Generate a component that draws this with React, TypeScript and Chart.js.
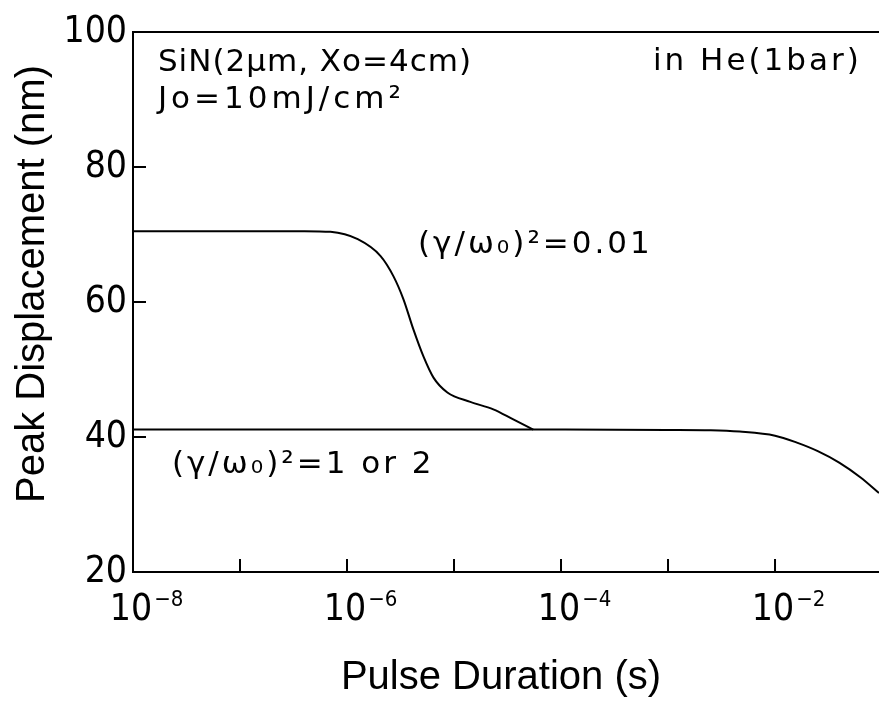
import React, { useEffect, useRef } from 'react';
import { Chart, registerables } from 'chart.js';

Chart.register(...registerables);

// ---- data ----
const lowDampX = [1e-8, 1e-7, 4e-7, 7.0e-7, 1.26e-6, 2.06e-6, 2.72e-6, 3.37e-6, 4.18e-6, 5.19e-6, 6.43e-6, 8.67e-6, 1.42e-5, 2.33e-5, 3.58e-5, 5.5e-5];
const lowDampY = [70.5, 70.5, 70.5, 70.4, 69.3, 66.8, 63.8, 60.4, 55.9, 51.9, 48.8, 46.6, 45.2, 44.1, 42.6, 41.1];

const highDampX = [1e-8, 1e-6, 1e-4, 1e-3, 2.51e-3, 4.68e-3, 1e-2, 1.58e-2, 2.51e-2, 3.98e-2, 6.31e-2, 9.37e-2];
const highDampY = [41.1, 41.1, 41.1, 41.05, 41.0, 40.8, 40.2, 39.2, 37.9, 36.2, 34.0, 31.7];

const X_MIN = 1e-8;
const X_MAX = 9.37e-2;
const Y_MIN = 20;
const Y_MAX = 100;
const Y_STEP = 20;

const yInnerTicks = [40, 60, 80];
const xInnerTicks = [1e-7, 1e-6, 1e-5, 1e-4, 1e-3, 1e-2];
const xLabelExponents = [-8, -6, -4, -2];

const xAxisTitle = 'Pulse Duration (s)';
const yAxisTitle = 'Peak Displacement (nm)';

const noteTexts = ['SiN(2μm, Xo=4cm)', 'Jo=10mJ/cm²', 'in He(1bar)', '(γ/ω₀)²=0.01', '(γ/ω₀)²=1 or 2'];
const noteX = [1.71e-8, 1.71e-8, 7.24e-4, 4.61e-6, 2.31e-8];
const noteY = [95.4, 89.9, 95.6, 68.4, 35.9];
const noteSpacing = [1, 4, 3, 3, 3];

const NARROW = '"Liberation Sans Narrow", "DejaVu Sans Condensed", "Arial Narrow", sans-serif';
const SANS = '"Liberation Sans", Arial, sans-serif';
const NOTE = '"DejaVu Sans", sans-serif';

const decorPlugin = {
  id: 'decor',
  afterDraw(chart: any) {
    const ctx = chart.ctx as CanvasRenderingContext2D;
    const { left, right, top, bottom } = chart.chartArea;
    const xs = chart.scales.x;
    const ys = chart.scales.y;
    ctx.save();
    ctx.strokeStyle = '#000';
    ctx.lineWidth = 2;
    // top frame line
    ctx.beginPath();
    ctx.moveTo(left, top);
    ctx.lineTo(right, top);
    ctx.stroke();
    // inward tick marks
    ctx.beginPath();
    xInnerTicks.forEach((v) => {
      const px = xs.getPixelForValue(v);
      ctx.moveTo(px, bottom);
      ctx.lineTo(px, bottom - 13);
    });
    yInnerTicks.forEach((v) => {
      const py = ys.getPixelForValue(v);
      ctx.moveTo(left, py);
      ctx.lineTo(left + 13, py);
    });
    ctx.stroke();

    // x tick labels 10^n
    ctx.fillStyle = '#000';
    ctx.textBaseline = 'middle';
    xLabelExponents.forEach((e) => {
      const px = xs.getPixelForValue(Math.pow(10, e));
      ctx.font = `37px ${NARROW}`;
      ctx.textAlign = 'center';
      ctx.fillText('10', px - 2, bottom + 38);
      const w = ctx.measureText('10').width;
      ctx.font = `22px ${NARROW}`;
      ctx.textAlign = 'left';
      ctx.fillText('\u2212' + Math.abs(e), px - 2 + w / 2 + 2, bottom + 28);
    });

    // axis titles
    ctx.font = `40px ${SANS}`;
    ctx.textAlign = 'center';
    ctx.fillText(xAxisTitle, (left + right) / 2 - 5, 678);
    ctx.save();
    ctx.translate(33, 284);
    ctx.rotate(-Math.PI / 2);
    ctx.fillText(yAxisTitle, 0, 0);
    ctx.restore();

    // annotations
    ctx.font = `31px ${NOTE}`;
    ctx.textAlign = 'left';
    noteTexts.forEach((t, i) => {
      (ctx as any).letterSpacing = `${noteSpacing[i]}px`;
      ctx.fillText(t, xs.getPixelForValue(noteX[i]), ys.getPixelForValue(noteY[i]));
    });
    ctx.restore();
  },
};

export default function App() {
  const ref = useRef<HTMLCanvasElement | null>(null);
  useEffect(() => {
    if (!ref.current) return;
    const mk = (xa: number[], ya: number[]) => xa.map((x, i) => ({ x, y: ya[i] }));
    const chart = new Chart(ref.current, {
      type: 'line',
      data: {
        datasets: [
          {
            label: '(γ/ω₀)²=0.01',
            data: mk(lowDampX, lowDampY),
            borderColor: '#000',
            borderWidth: 2,
            pointRadius: 0,
            cubicInterpolationMode: 'monotone',
            fill: false,
          },
          {
            label: '(γ/ω₀)²=1 or 2',
            data: mk(highDampX, highDampY),
            borderColor: '#000',
            borderWidth: 2,
            pointRadius: 0,
            cubicInterpolationMode: 'monotone',
            fill: false,
          },
        ],
      },
      options: {
        animation: false,
        responsive: false,
        layout: { padding: { top: 32, right: 0, left: 0, bottom: 0 } },
        plugins: { legend: { display: false }, tooltip: { enabled: false } },
        scales: {
          x: {
            type: 'logarithmic',
            min: X_MIN,
            max: X_MAX,
            grid: { display: false, drawTicks: false },
            border: { display: true, color: '#000', width: 2 },
            ticks: { display: false },
            afterFit: (s: any) => {
              s.height = 134;
            },
          },
          y: {
            type: 'linear',
            min: Y_MIN,
            max: Y_MAX,
            grid: { display: false, drawTicks: false },
            border: { display: true, color: '#000', width: 2 },
            ticks: {
              stepSize: Y_STEP,
              color: '#000',
              padding: 6,
              font: { family: NARROW, size: 37 },
            },
            afterFit: (s: any) => {
              s.width = 133;
            },
          },
        },
      },
      plugins: [decorPlugin],
    });
    return () => chart.destroy();
  }, []);
  return (
    <canvas
      ref={ref}
      width={879}
      height={706}
      style={{ position: 'absolute', left: 0, top: 0, width: 879, height: 706 }}
    />
  );
}
